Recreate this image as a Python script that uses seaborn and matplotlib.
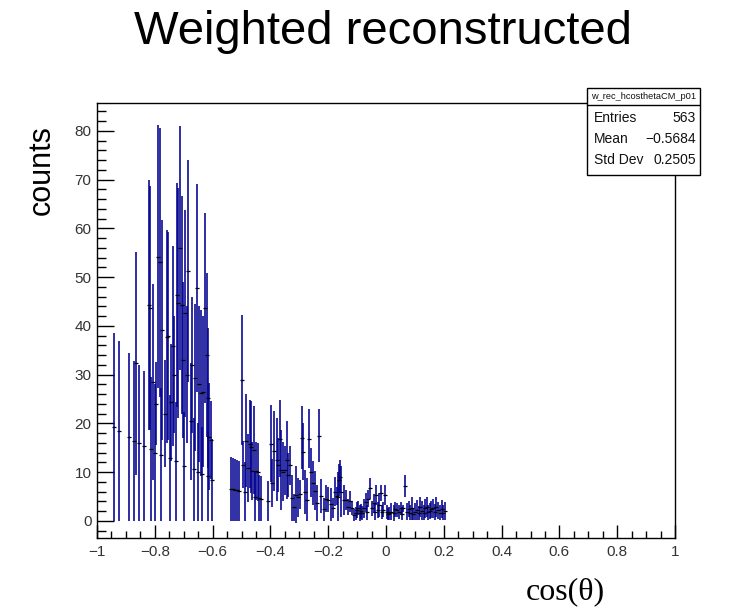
import matplotlib
matplotlib.use("Agg")
import matplotlib.pyplot as plt
import seaborn as sns
import pandas as pd
from matplotlib.patches import Rectangle
from matplotlib.lines import Line2D
from matplotlib.ticker import FixedLocator, MultipleLocator

# ---------------- data ----------------
cos_theta = [
    # cluster -0.95 .. -0.60
    -0.942, -0.923, -0.888, -0.871, -0.864, -0.856, -0.838, -0.821, -0.816, -0.812,
    -0.806, -0.799, -0.795, -0.788, -0.782, -0.778, -0.774, -0.766, -0.759, -0.753,
    -0.749, -0.745, -0.738, -0.734, -0.727, -0.724, -0.719, -0.713, -0.707, -0.701,
    -0.698, -0.695, -0.690, -0.684, -0.676, -0.670, -0.666, -0.661, -0.655, -0.650,
    -0.646, -0.640, -0.636, -0.632, -0.627, -0.621, -0.617, -0.615, -0.612, -0.606,
    -0.603,
    # cluster -0.54 .. -0.43
    -0.536, -0.530, -0.523, -0.516, -0.509, -0.498, -0.494, -0.487, -0.483, -0.477,
    -0.471, -0.466, -0.462, -0.457, -0.452, -0.449, -0.444, -0.440, -0.434,
    # cluster -0.41 .. -0.16
    -0.407, -0.399, -0.393, -0.386, -0.378, -0.372, -0.368, -0.362, -0.357, -0.351,
    -0.344, -0.338, -0.331, -0.325, -0.318, -0.312, -0.305, -0.298, -0.292, -0.286,
    -0.279, -0.273, -0.265, -0.259, -0.252, -0.246, -0.240, -0.231, -0.224, -0.216,
    -0.207, -0.199, -0.191, -0.183, -0.176, -0.171, -0.164,
    # cluster -0.165 .. 0.21
    -0.165, -0.159, -0.154, -0.146, -0.139, -0.131, -0.125, -0.117, -0.111, -0.104,
    -0.100, -0.096, -0.090, -0.086, -0.082, -0.075, -0.070, -0.066, -0.062, -0.056,
    -0.049, -0.042, -0.038, -0.033, -0.029, -0.025, -0.018, -0.014, -0.010, -0.004,
    0.004, 0.008, 0.011, 0.019, 0.027, 0.031, 0.037, 0.045, 0.052, 0.056,
    0.060, 0.066, 0.074, 0.079, 0.083, 0.091, 0.095, 0.100, 0.108, 0.113,
    0.118, 0.126, 0.131, 0.135, 0.143, 0.147, 0.152, 0.157, 0.161, 0.168,
    0.173, 0.180, 0.187, 0.193, 0.198, 0.204,
]
counts = [
    19.3, 18.5, 17.2, 16.4, 32.3, 16.0, 15.4, 44.3, 43.6, 14.8,
    28.5, 14.0, 24.0, 54.2, 53.0, 13.6, 39.2, 22.0, 37.8, 38.0,
    12.9, 24.3, 35.8, 30.0, 12.2, 46.3, 44.7, 55.9, 44.3, 33.0,
    11.2, 42.6, 30.0, 51.2, 20.4, 32.0, 10.6, 29.4, 47.7, 10.0,
    28.0, 26.3, 9.6, 26.5, 43.6, 34.0, 9.2, 25.2, 17.3, 16.6,
    8.4,
    6.6, 6.5, 6.4, 6.3, 6.1, 28.9, 11.5, 6.0, 16.5, 10.9,
    15.8, 15.2, 10.2, 14.5, 5.0, 10.2, 10.0, 4.7, 4.6,
    4.1, 15.8, 7.8, 14.3, 12.6, 11.5, 16.9, 10.5, 10.1, 10.4,
    12.5, 9.5, 11.4, 4.7, 2.8, 5.4, 4.9, 5.5, 17.1, 14.2,
    6.0, 4.4, 16.9, 10.0, 7.7, 6.2, 3.7, 17.5, 5.1, 2.4,
    4.6, 4.4, 3.4, 2.7, 6.0, 5.1, 8.4,
    5.0, 9.1, 6.0, 4.3, 4.3, 2.9, 4.0, 2.6, 1.2, 1.6,
    2.2, 2.6, 1.6, 2.0, 1.7, 2.6, 3.8, 1.8, 4.6, 6.7,
    2.6, 3.6, 1.9, 5.3, 2.2, 3.3, 5.7, 1.8, 2.3, 5.3,
    1.9, 1.4, 1.6, 1.9, 1.6, 2.4, 2.3, 1.9, 2.6, 1.5,
    2.6, 7.2, 1.9, 2.5, 1.7, 2.6, 1.4, 1.9, 2.3, 1.6,
    2.9, 2.1, 1.7, 2.6, 2.9, 1.8, 2.1, 2.4, 2.6, 1.9,
    2.9, 2.2, 1.7, 2.4, 1.7, 2.0,
]
errors = [
    19.3, 18.5, 17.2, 16.4, 22.8, 16.0, 15.4, 25.7, 25.0, 14.8,
    20.0, 14.0, 8.5, 27.0, 27.6, 13.6, 22.5, 11.0, 21.9, 21.3,
    12.9, 12.0, 20.5, 12.0, 12.2, 23.0, 23.6, 25.0, 22.3, 16.0,
    11.2, 21.2, 14.0, 22.8, 12.0, 14.0, 10.6, 15.0, 21.3, 10.0,
    16.0, 17.0, 9.6, 15.5, 19.5, 16.8, 9.2, 14.3, 11.0, 8.0,
    8.4,
    6.6, 6.5, 6.4, 6.3, 6.1, 13.4, 4.8, 6.0, 9.5, 7.0,
    9.0, 9.5, 6.0, 9.0, 5.0, 6.0, 6.0, 4.7, 4.6,
    4.1, 7.9, 5.0, 8.2, 8.5, 5.6, 7.9, 8.2, 6.0, 5.0,
    8.0, 4.5, 4.0, 4.7, 2.8, 5.8, 4.0, 3.0, 6.4, 5.8,
    4.5, 4.4, 6.0, 5.0, 4.5, 4.0, 3.7, 5.5, 3.5, 2.4,
    2.8, 2.5, 3.4, 2.0, 3.0, 1.8, 3.2,
    5.0, 3.4, 5.2, 3.0, 2.1, 1.7, 2.1, 1.4, 1.2, 1.3,
    1.6, 1.4, 1.6, 1.5, 1.4, 2.0, 1.9, 1.5, 1.7, 2.1,
    1.5, 2.0, 1.6, 2.1, 1.6, 2.5, 1.7, 1.4, 1.5, 2.1,
    1.4, 1.2, 1.3, 1.7, 1.7, 1.5, 1.4, 1.4, 1.3, 1.3,
    0.7, 2.2, 1.7, 1.6, 1.6, 2.4, 1.2, 1.7, 2.0, 1.4,
    2.1, 1.9, 1.5, 2.0, 2.1, 1.5, 1.6, 1.7, 2.0, 1.6,
    2.1, 1.7, 1.6, 1.8, 1.6, 1.8,
]

x_ticks = [-1.0, -0.8, -0.6, -0.4, -0.2, 0.0, 0.2, 0.4, 0.6, 0.8, 1.0]
x_tick_labels = ["\u22121", "\u22120.8", "\u22120.6", "\u22120.4", "\u22120.2",
                 "0", "0.2", "0.4", "0.6", "0.8", "1"]
y_ticks = [0, 10, 20, 30, 40, 50, 60, 70, 80]
y_tick_labels = ["0", "10", "20", "30", "40", "50", "60", "70", "80"]

title_text = "Weighted reconstructed"
x_label = "cos(\u03b8)"
y_label = "counts"
stats_name = "w_rec_hcosthetaCM_p01"
stats_labels = ["Entries", "Mean", "Std Dev"]
stats_values = ["563", "\u22120.5684", "0.2505"]

# ---------------- style ----------------
sns.set_theme(style="white")
plt.rcParams["font.family"] = ["Liberation Sans", "DejaVu Sans"]
plt.rcParams["text.color"] = "black"
plt.rcParams["axes.labelcolor"] = "black"

W, H = 746, 613
fig = plt.figure(figsize=(W / 100, H / 100), dpi=100)
fig.patch.set_facecolor("white")

left, right, top, bottom = 97, 675, 103, 538
ax = fig.add_axes([left / W, 1 - bottom / H, (right - left) / W, (bottom - top) / H])
ax.set_facecolor("white")

df = pd.DataFrame({"x": cos_theta, "y": counts, "e": errors})
df["lo"] = df["y"] - df["e"]
df["hi"] = df["y"] + df["e"]

ax.vlines(df["x"], df["lo"], df["hi"], color="#000090", lw=1.15, zorder=2)
sns.scatterplot(data=df, x="x", y="y", marker="_", color="black", s=6,
                linewidth=0.9, ax=ax, zorder=3, legend=False)

ax.set_xlim(-1, 1)
ax.set_ylim(-3.49, 85.7)

ax.xaxis.set_major_locator(FixedLocator(x_ticks))
ax.set_xticklabels(x_tick_labels)
ax.xaxis.set_minor_locator(MultipleLocator(0.05))
ax.yaxis.set_major_locator(FixedLocator(y_ticks))
ax.set_yticklabels(y_tick_labels)
ax.yaxis.set_minor_locator(MultipleLocator(2))

ax.tick_params(axis="x", which="major", direction="in", length=9.4, width=1.0,
               bottom=True, top=False, color="black", labelcolor="#333333",
               labelsize=11, pad=5)
ax.tick_params(axis="x", which="minor", direction="in", length=4.7, width=1.0,
               bottom=True, top=False, color="black")
ax.tick_params(axis="y", which="major", direction="in", length=12.3, width=1.0,
               left=True, right=False, color="black", labelcolor="#333333",
               labelsize=11, pad=4)
ax.tick_params(axis="y", which="minor", direction="in", length=6.2, width=1.0,
               left=True, right=False, color="black")

for sp in ax.spines.values():
    sp.set_visible(True)
    sp.set_color("black")
    sp.set_linewidth(1.0)

ax.set_xlabel(x_label, family=["Liberation Serif", "DejaVu Serif"], fontsize=23,
              color="black")
ax.xaxis.set_label_coords((565 - left) / (right - left), (bottom - 592) / (bottom - top))
ax.xaxis.label.set_verticalalignment("center")
ax.set_ylabel(y_label, fontsize=22, color="black")
ax.yaxis.set_label_coords((42 - left) / (right - left), (bottom - 170) / (bottom - top))
ax.yaxis.label.set_verticalalignment("center")

fig.text(383 / W, 1 - 32 / H, title_text, ha="center", va="center", fontsize=34,
         color="black")

# ---------------- stats box ----------------
bx0, bx1, by0, by1 = 587, 700, 88, 175
fig.patches.append(Rectangle((bx0 / W, 1 - by1 / H), (bx1 - bx0) / W, (by1 - by0) / H,
                             transform=fig.transFigure, facecolor="white",
                             edgecolor="black", lw=1.0, zorder=5))
fig.lines.append(Line2D([bx0 / W, bx1 / W], [1 - 105 / H, 1 - 105 / H],
                        transform=fig.transFigure, color="black", lw=1.0, zorder=6))
fig.text((bx0 + bx1) / 2 / W, 1 - 96.5 / H, stats_name, ha="center", va="center",
         fontsize=6.7, color="#111111", zorder=7)
row_y = [118, 139, 160]
for lab, val, yy in zip(stats_labels, stats_values, row_y):
    fig.text(594 / W, 1 - yy / H, lab, ha="left", va="center", fontsize=10,
             color="#111111", zorder=7)
    fig.text(696 / W, 1 - yy / H, val, ha="right", va="center", fontsize=10,
             color="#111111", zorder=7)

fig.savefig("out.png", dpi=100, facecolor="white")
